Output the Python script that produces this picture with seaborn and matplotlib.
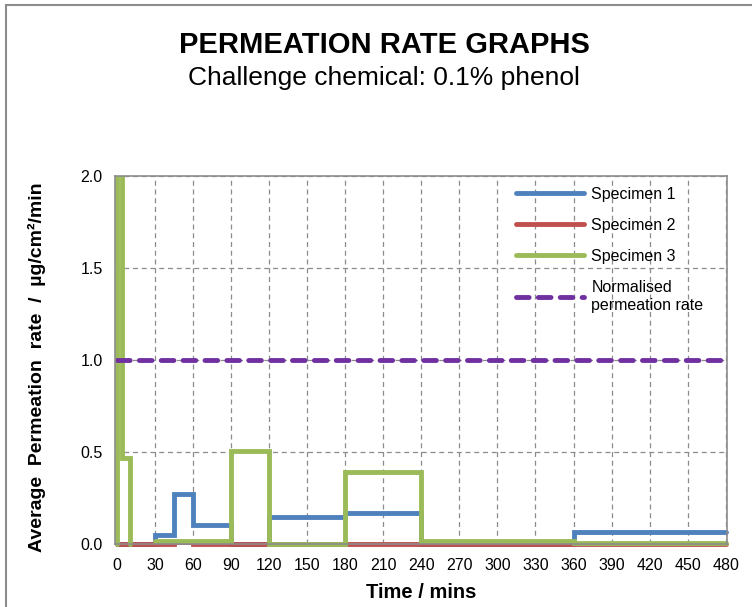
import matplotlib
matplotlib.use("Agg")
import matplotlib.pyplot as plt
from matplotlib.lines import Line2D
from matplotlib.patches import Rectangle
import numpy as np
import pandas as pd
import seaborn as sns

# Step change points (minutes) and the rate held from each point onward
spec1_time = [0, 30, 45, 60, 90, 120, 180, 240, 360, 480]
spec1_rate = [0.0, 0.05, 0.27, 0.105, 0.0, 0.145, 0.17, 0.0, 0.063, 0.063]

spec2_time = [0, 45, 60, 480]
spec2_rate = [0.0, 0.01, 0.0, 0.0]

# Specimen 3 has no reading between 10 and 30 min, so it is drawn in two pieces
spec3a_time = [0, 0.4, 4, 10]
spec3a_rate = [0.0, 2.6, 0.47, 0.0]
spec3b_time = [30, 90, 120, 180, 240, 360, 480]
spec3b_rate = [0.015, 0.505, 0.0, 0.39, 0.018, 0.006, 0.006]

norm_time = [0, 480]
norm_rate = [1.0, 1.0]

x_ticks = list(range(0, 481, 30))
y_ticks = [0.0, 0.5, 1.0, 1.5, 2.0]

names = ["Specimen 1", "Specimen 2", "Specimen 3", "Normalised\npermeation rate"]
colors = ["#4F81BD", "#C0504D", "#9BBB59", "#7030A0"]

sns.set_theme(style="white")
plt.rcParams["font.family"] = ["Liberation Sans", "DejaVu Sans"]
plt.rcParams["text.color"] = "black"
plt.rcParams["axes.labelcolor"] = "black"

fig = plt.figure(figsize=(7.52, 6.07), dpi=100)
ax = fig.add_axes([115 / 752, 63 / 607, 612 / 752, 368 / 607])

lw = 3.5
pieces = [
    (spec1_time, spec1_rate, colors[0]),
    (spec2_time, spec2_rate, colors[1]),
    (spec3a_time, spec3a_rate, colors[2]),
    (spec3b_time, spec3b_rate, colors[2]),
]
for t, r, c in pieces:
    df = pd.DataFrame({"time": t, "rate": r})
    sns.lineplot(data=df, x="time", y="rate", ax=ax, color=c, lw=lw,
                 drawstyle="steps-post", estimator=None, sort=False,
                 solid_joinstyle="miter")

dash = (0, (2.6, 1.9))
ndf = pd.DataFrame({"time": norm_time, "rate": norm_rate})
sns.lineplot(data=ndf, x="time", y="rate", ax=ax, color=colors[3], lw=lw,
             estimator=None, dashes=False, linestyle=dash,
             dash_capstyle="round")

# Let series lying on the zero line show at full width; cut off at the top
clip = Rectangle((-0.01, -0.03), 1.02, 1.03, transform=ax.transAxes)
for line in ax.lines:
    line.set_clip_path(clip)

ax.set_xlim(-1.5, 481)
ax.set_ylim(0, 2.0)
ax.set_xticks(x_ticks)
ax.set_yticks(y_ticks)
ax.set_yticklabels([f"{v:.1f}" for v in y_ticks])
ax.tick_params(axis="x", labelsize=11.5, colors="black", length=0, pad=10)
ax.tick_params(axis="y", labelsize=11.5, labelcolor="black", length=4,
               color="#888888", pad=5)
ax.grid(True, color="#8c8c8c", linestyle=(0, (4, 3)), linewidth=0.9)
ax.set_axisbelow(True)
for s in ax.spines.values():
    s.set_color("#8c8c8c")
    s.set_linewidth(1.2)

ax.set_xlabel("Time / mins", fontsize=14.5, fontweight="bold", labelpad=7)
ax.set_ylabel("Average  Permeation  rate  /  \u00b5g/cm\u00b2/min", fontsize=14,
              fontweight="bold")
ax.yaxis.set_label_coords(-0.112, 0.48)

handles = [Line2D([], [], color=colors[0], lw=lw, solid_capstyle="round"),
           Line2D([], [], color=colors[1], lw=lw, solid_capstyle="round"),
           Line2D([], [], color=colors[2], lw=lw, solid_capstyle="round"),
           Line2D([], [], color=colors[3], lw=lw, linestyle=dash,
                  dash_capstyle="round")]
leg = ax.legend(handles, names, loc="upper left", bbox_to_anchor=(0.631, 1.01),
                frameon=False, fontsize=11.5, handlelength=4.3,
                handletextpad=0.45, labelspacing=1.0)
for txt in leg.get_texts():
    txt.set_linespacing(1.25)

fig.text(0.511, 0.926, "PERMEATION RATE GRAPHS", ha="center", va="center",
         fontsize=21, fontweight="bold")
fig.text(0.511, 0.871, "Challenge chemical: 0.1% phenol", ha="center",
         va="center", fontsize=19)

# Outer chart border (only its left and top edges fall inside the image)
fig.patches.append(Rectangle((6 / 752, -0.2), 1.5, 1.2 - 5 / 607,
                             transform=fig.transFigure, fill=False,
                             edgecolor="#8c8c8c", lw=1.5))

fig.savefig("out.png", dpi=100)
